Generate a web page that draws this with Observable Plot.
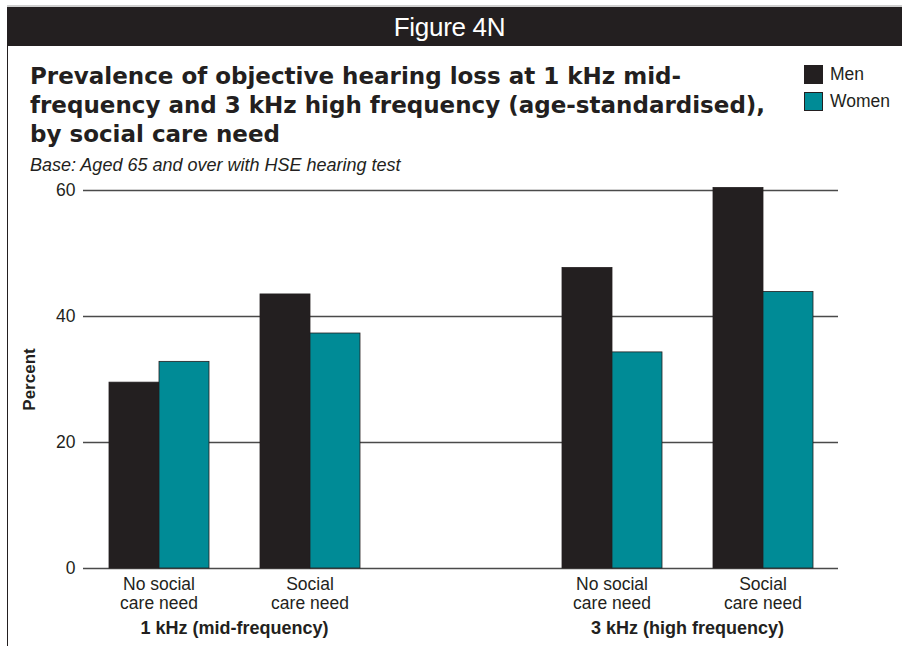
<!DOCTYPE html>
<html>
<head>
<meta charset="utf-8">
<script src="https://cdn.jsdelivr.net/npm/d3@7"></script>
<script src="https://cdn.jsdelivr.net/npm/@observablehq/plot@0.6"></script>
<style>
  html, body { margin: 0; padding: 0; background: #fff; }
  #page { position: relative; width: 902px; height: 646px; overflow: hidden; background: #fff;
          font-family: "Liberation Sans", Arial, sans-serif; color: #231f20; }
  #topline { position: absolute; left: 7px; top: 5px; width: 895px; height: 2px; background: #cfcfcf; }
  #header { position: absolute; left: 7px; top: 7px; width: 895px; height: 39px; background: #231f20;
            color: #fff; font-size: 26px; line-height: 39px; text-align: center; letter-spacing: -0.3px; }
  #header span { position: relative; left: -5px; top: 1px; }
  #leftline { position: absolute; left: 7px; top: 46px; width: 1.3px; height: 600px; background: #231f20; }
  #title { position: absolute; left: 30px; top: 62px; width: 760px; font-family: "DejaVu Sans", sans-serif;
           font-weight: bold; font-size: 23px; line-height: 29px; color: #231f20; }
  #subtitle { position: absolute; left: 30px; top: 155px; font-style: italic; font-size: 18px; line-height: 20px; }
  .leg { position: absolute; left: 804px; width: 17px; height: 17px; border: 1px solid #231f20; }
  .legt { position: absolute; left: 830px; font-size: 17.5px; line-height: 20px; }
  #chart { position: absolute; left: 0; top: 175px; }
</style>
</head>
<body>
<div id="page">
  <div id="topline"></div>
  <div id="header"><span>Figure 4N</span></div>
  <div id="leftline"></div>
  <div id="title">Prevalence of objective hearing loss at 1 kHz mid-<br>frequency and 3 kHz high frequency (age-standardised),<br>by social care need</div>
  <div id="subtitle">Base: Aged 65 and over with HSE hearing test</div>
  <div id="legend"></div>
  <div id="chart"></div>
</div>
<script>
// ---- Data ----
const categoryKeys = ["1k-no", "1k-yes", "gap", "3k-no", "3k-yes"];
const categoryLabels = ["No social\ncare need", "Social\ncare need", "", "No social\ncare need", "Social\ncare need"];
const menValues = [29.5, 43.5, null, 47.7, 60.4];
const womenValues = [32.8, 37.3, null, 34.3, 43.9];
const series = ["Men", "Women"];
const seriesColors = ["#231f20", "#008b96"];
const frequencyKeys = ["1k-no", "3k-no"];
const frequencyLabels = ["1 kHz (mid-frequency)", "3 kHz (high frequency)"];
const yTicks = [0, 20, 40, 60];
const yLabel = "Percent";

// ---- Build tables ----
const bars = [];
categoryKeys.forEach((k, i) => {
  if (menValues[i] != null) bars.push({key: k, sex: "Men", value: menValues[i]});
  if (womenValues[i] != null) bars.push({key: k, sex: "Women", value: womenValues[i]});
});
const labelOf = new Map(categoryKeys.map((k, i) => [k, categoryLabels[i]]));
const grid = categoryKeys.flatMap(k => yTicks.map(t => ({key: k, t})));
const groupLabels = frequencyKeys.map((k, i) => ({key: k, text: frequencyLabels[i]}));

// ---- Legend ----
const legend = document.getElementById("legend");
series.forEach((s, i) => {
  const top = 65 + i * 27;
  const sw = document.createElement("div");
  sw.className = "leg";
  sw.style.top = top + "px";
  sw.style.background = seriesColors[i];
  legend.appendChild(sw);
  const t = document.createElement("div");
  t.className = "legt";
  t.style.top = (top - 1) + "px";
  t.textContent = s;
  legend.appendChild(t);
});

// ---- Chart ----
const chart = Plot.plot({
  width: 902,
  height: 471,
  marginTop: 15,
  marginBottom: 78,
  marginLeft: 83,
  marginRight: 64,
  style: {fontFamily: "'Liberation Sans', Arial, sans-serif", fontSize: "17.5px", color: "#231f20", background: "transparent"},
  fx: {domain: categoryKeys, padding: 0, label: null, axis: null},
  x: {domain: series, paddingInner: 0, paddingOuter: 0.51, axis: null},
  y: {domain: [0, 60], ticks: yTicks, tickSize: 0, tickPadding: 8, label: null},
  color: {domain: series, range: seriesColors},
  marks: [
    Plot.ruleY(grid, {fx: "key", y: "t", stroke: "#4a4a4a", strokeWidth: 1.4}),
    Plot.barY(bars, {fx: "key", x: "sex", y: "value", fill: "sex", stroke: "#231f20", strokeWidth: 0.8}),
    Plot.axisFx({anchor: "bottom", tickSize: 0, tickPadding: 8, label: null, fontSize: 17.5, lineHeight: 1.1,
      tickFormat: k => labelOf.get(k)}),
    Plot.text([{key: "1k-no", text: yLabel}], {fx: "key", text: "text", frameAnchor: "left", rotate: -90,
      dx: -54, textAnchor: "middle", fontWeight: "bold", fontSize: 17, fill: "#231f20"}),
    Plot.text(groupLabels, {fx: "key", text: "text", frameAnchor: "bottom-right", textAnchor: "middle",
      lineAnchor: "top", dy: 53, fontWeight: "bold", fontSize: 18, fill: "#231f20"})
  ]
});
document.getElementById("chart").appendChild(chart);
</script>
</body>
</html>
